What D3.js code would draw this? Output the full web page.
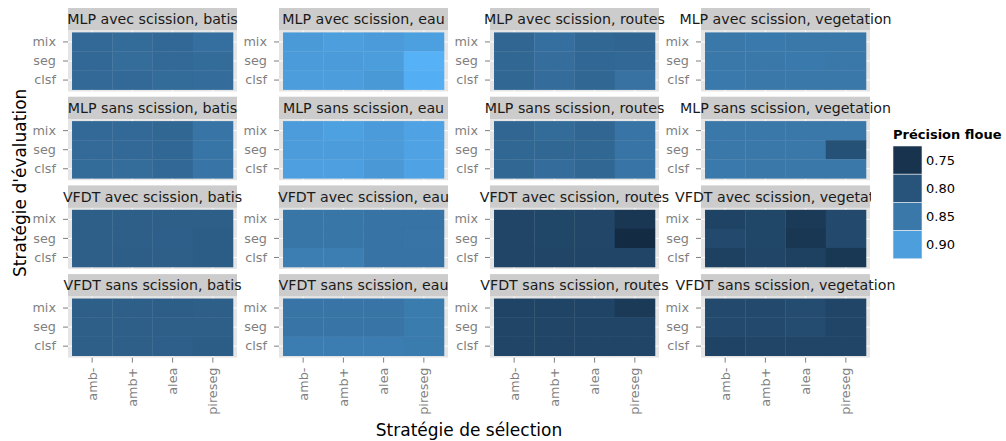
<!DOCTYPE html>
<html>
<head>
<meta charset="utf-8">
<script src="https://cdn.jsdelivr.net/npm/d3@7"></script>
<style>
  body { margin: 0; background: #fff; }
  svg { display: block; font-family: "DejaVu Sans", sans-serif; }
</style>
</head>
<body>
<script>
// facet categories
const classifiers = ["MLP avec scission", "MLP sans scission", "VFDT avec scission", "VFDT sans scission"];
const themes = ["batis", "eau", "routes", "vegetation"];
const selection = ["amb-", "amb+", "alea", "pireseg"];
const evaluation = ["mix", "seg", "clsf"]; // top to bottom
const legendBreaks = [0.75, 0.8, 0.85, 0.9];

// précision floue, per theme: rows mix / seg / clsf, columns amb- amb+ alea pireseg
const mlpAvec = [
  [[0.830, 0.832, 0.828, 0.838], [0.828, 0.833, 0.830, 0.832], [0.830, 0.830, 0.832, 0.834]],
  [[0.895, 0.900, 0.897, 0.903], [0.897, 0.897, 0.899, 0.925], [0.899, 0.899, 0.894, 0.921]],
  [[0.825, 0.838, 0.826, 0.824], [0.826, 0.836, 0.827, 0.828], [0.826, 0.835, 0.826, 0.842]],
  [[0.850, 0.851, 0.850, 0.850], [0.850, 0.850, 0.851, 0.850], [0.851, 0.850, 0.850, 0.850]]
];
const mlpSans = [
  [[0.830, 0.830, 0.826, 0.845], [0.831, 0.830, 0.827, 0.846], [0.832, 0.833, 0.828, 0.845]],
  [[0.898, 0.904, 0.897, 0.906], [0.898, 0.898, 0.896, 0.907], [0.902, 0.902, 0.893, 0.907]],
  [[0.825, 0.832, 0.825, 0.845], [0.826, 0.826, 0.826, 0.845], [0.826, 0.835, 0.826, 0.845]],
  [[0.850, 0.850, 0.850, 0.850], [0.850, 0.850, 0.850, 0.795], [0.851, 0.850, 0.850, 0.850]]
];
const vfdtAvec = [
  [[0.815, 0.815, 0.815, 0.815], [0.815, 0.815, 0.816, 0.813], [0.815, 0.814, 0.815, 0.813]],
  [[0.848, 0.848, 0.843, 0.843], [0.848, 0.848, 0.843, 0.845], [0.858, 0.858, 0.843, 0.843]],
  [[0.777, 0.780, 0.779, 0.755], [0.777, 0.780, 0.779, 0.737], [0.777, 0.778, 0.777, 0.777]],
  [[0.775, 0.780, 0.760, 0.785], [0.785, 0.780, 0.755, 0.785], [0.772, 0.778, 0.772, 0.757]]
];
const vfdtSans = [
  [[0.815, 0.815, 0.814, 0.815], [0.815, 0.815, 0.815, 0.815], [0.815, 0.815, 0.816, 0.813]],
  [[0.845, 0.845, 0.845, 0.855], [0.845, 0.845, 0.845, 0.855], [0.857, 0.857, 0.857, 0.855]],
  [[0.776, 0.776, 0.776, 0.760], [0.777, 0.777, 0.777, 0.777], [0.777, 0.777, 0.777, 0.777]],
  [[0.785, 0.785, 0.788, 0.778], [0.785, 0.785, 0.788, 0.778], [0.775, 0.777, 0.777, 0.777]]
];
const facetValues = [mlpAvec, mlpSans, vfdtAvec, vfdtSans];

const width = 1006;
const height = 441;
const panelLeft = 68;
const colPitch = 211;
const panelW = 169;
const panelTop = 8;
const rowPitch = 88.7;
const stripH = 22.5;
const panelH = 61;
const grey50 = "#7F7F7F";

const cells = [];
facetValues.forEach((facetRow, r) =>
  facetRow.forEach((grid, c) =>
    grid.forEach((vals, e) =>
      vals.forEach((v, s) =>
        cells.push({ r, c, eval: evaluation[e], sel: selection[s], value: v })
      )
    )
  )
);

const color = d3
  .scaleSequential(d3.interpolateLab("#132B43", "#56B1F7"))
  .domain(d3.extent(cells, d => d.value));

const x = d3.scaleBand().domain(selection).range([0, panelW]).paddingOuter(0.1);
const y = d3.scaleBand().domain(evaluation).range([0, panelH]).paddingOuter(0.1);

const svg = d3
  .select("body")
  .append("svg")
  .attr("width", width)
  .attr("height", height);

classifiers.forEach((cls, r) => {
  themes.forEach((theme, c) => {
    const x0 = panelLeft + c * colPitch;
    const y0 = panelTop + r * rowPitch;
    const g = svg.append("g").attr("transform", `translate(${x0},${y0})`);

    g.append("rect")
      .attr("width", panelW)
      .attr("height", stripH)
      .attr("fill", "#CCCCCC");

    g.append("text")
      .attr("x", panelW / 2)
      .attr("y", stripH / 2)
      .attr("dy", "0.36em")
      .attr("text-anchor", "middle")
      .attr("font-size", 14.2)
      .attr("fill", "#1A1A1A")
      .text(`${cls}, ${theme}`);

    const p = g.append("g").attr("transform", `translate(0,${stripH})`);

    p.append("rect")
      .attr("width", panelW)
      .attr("height", panelH)
      .attr("fill", "#E5E5E5");

    p.selectAll("line.vg")
      .data(selection)
      .join("line")
      .attr("class", "vg")
      .attr("x1", d => x(d) + x.bandwidth() / 2)
      .attr("x2", d => x(d) + x.bandwidth() / 2)
      .attr("y1", 0)
      .attr("y2", panelH)
      .attr("stroke", "#fff");

    p.selectAll("line.hg")
      .data(evaluation)
      .join("line")
      .attr("class", "hg")
      .attr("y1", d => y(d) + y.bandwidth() / 2)
      .attr("y2", d => y(d) + y.bandwidth() / 2)
      .attr("x1", 0)
      .attr("x2", panelW)
      .attr("stroke", "#fff");

    p.selectAll("rect.cell")
      .data(cells.filter(d => d.r === r && d.c === c))
      .join("rect")
      .attr("class", "cell")
      .attr("x", d => x(d.sel))
      .attr("y", d => y(d.eval))
      .attr("width", x.bandwidth() + 0.3)
      .attr("height", y.bandwidth() + 0.3)
      .attr("fill", d => color(d.value));

    const ya = p.append("g").call(d3.axisLeft(y).tickSize(5).tickPadding(7));
    ya.select(".domain").remove();
    ya.selectAll("line").attr("stroke", grey50);
    ya.selectAll("text")
      .attr("font-size", 12.8)
      .attr("fill", grey50)
      .attr("font-family", "DejaVu Sans, sans-serif");

    if (r === classifiers.length - 1) {
      const xa = p
        .append("g")
        .attr("transform", `translate(0,${panelH})`)
        .call(d3.axisBottom(x).tickSize(5));
      xa.select(".domain").remove();
      xa.selectAll("line").attr("stroke", grey50);
      xa.selectAll("text")
        .attr("font-size", 12.8)
        .attr("fill", grey50)
        .attr("font-family", "DejaVu Sans, sans-serif")
        .attr("transform", "rotate(-90)")
        .attr("text-anchor", "end")
        .attr("x", -10)
        .attr("y", 0)
        .attr("dy", "0.35em");
    }
  });
});

// legend (its white box sits over the long strip label like in the original)
const legend = svg.append("g").attr("transform", "translate(871,120)");
legend.append("rect").attr("width", width - 871).attr("height", 148).attr("fill", "#fff");
legend
  .append("text")
  .attr("x", 22)
  .attr("y", 19)
  .attr("font-size", 13)
  .attr("font-weight", "bold")
  .attr("fill", "#000")
  .text("Précision floue");

const keyH = 28.2;
legendBreaks.forEach((b, i) => {
  legend
    .append("rect")
    .attr("x", 22)
    .attr("y", 26 + i * keyH)
    .attr("width", 29)
    .attr("height", keyH)
    .attr("fill", color(b))
    .attr("stroke", "#F2F2F2")
    .attr("stroke-width", 0.6);
  legend
    .append("text")
    .attr("x", 55)
    .attr("y", 26 + i * keyH + keyH / 2)
    .attr("dy", "0.35em")
    .attr("font-size", 13)
    .attr("fill", "#000")
    .text(d3.format(".2f")(b));
});

svg
  .append("text")
  .attr("x", panelLeft + (3 * colPitch + panelW) / 2)
  .attr("y", 436)
  .attr("text-anchor", "middle")
  .attr("font-size", 17)
  .attr("fill", "#000")
  .text("Stratégie de sélection");

svg
  .append("text")
  .attr("transform", `translate(26,${(panelTop + 3 * rowPitch + stripH + panelH + panelTop) / 2}) rotate(-90)`)
  .attr("text-anchor", "middle")
  .attr("font-size", 17)
  .attr("fill", "#000")
  .text("Stratégie d'évaluation");
</script>
</body>
</html>
